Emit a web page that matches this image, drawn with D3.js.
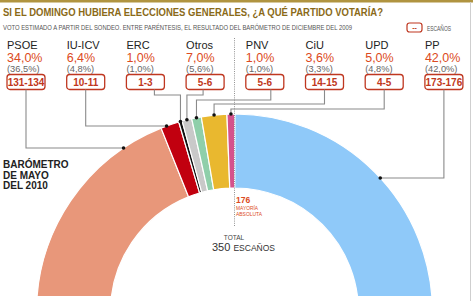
<!DOCTYPE html>
<html>
<head>
<meta charset="utf-8">
<script src="https://cdn.jsdelivr.net/npm/d3@7"></script>
<style>
  body { margin: 0; background: #fff; }
  svg { font-family: "Liberation Sans", Arial, sans-serif; display: block; }
</style>
</head>
<body>
<svg id="chart" width="473" height="301"></svg>
<script>
// Data
const parties = ["PSOE", "IU-ICV", "ERC", "Otros", "PNV", "CiU", "UPD", "PP"];
const votePct = ["34,0%", "6,4%", "1,0%", "7,0%", "1,0%", "3,6%", "5,0%", "42,0%"];
const prevPct = ["(36,5%)", "(4,8%)", "(1,0%)", "(5,6%)", "(1,0%)", "(3,3%)", "(4,8%)", "(42,0%)"];
const seatsLow = [131, 10, 1, 5, 5, 14, 4, 173];
const seatsHigh = [134, 11, 3, 6, 6, 15, 5, 176];
const colors = ["#e8977a", "#c1000f", "#111111", "#c9c9c9", "#8fcfaa", "#e9b82f", "#d4528c", "#8fc9f9"];
const totalSeats = 350;
const majority = 176;

const svg = d3.select("#chart");
const W = 473, H = 301;
const red = "#bf3720";
const redText = "#dc4a22";

// frame
svg.append("rect").attr("x", 0).attr("y", 0).attr("width", W).attr("height", 2.5).attr("fill", "#b09440");
svg.append("line").attr("x1", 470.5).attr("x2", 470.5).attr("y1", 2).attr("y2", H).attr("stroke", "#cfcfcf").attr("stroke-width", 1);

// title
svg.append("text").attr("x", 3).attr("y", 16)
    .attr("font-size", 11.5).attr("font-weight", "bold").attr("fill", "#8a6a18")
    .attr("textLength", 380).attr("lengthAdjust", "spacingAndGlyphs")
    .text("SI EL DOMINGO HUBIERA ELECCIONES GENERALES, ¿A QUÉ PARTIDO VOTARÍA?");
svg.append("text").attr("x", 3).attr("y", 30)
    .attr("font-size", 6.5).attr("fill", "#555")
    .attr("textLength", 349).attr("lengthAdjust", "spacingAndGlyphs")
    .text("VOTO ESTIMADO A PARTIR DEL SONDEO. ENTRE PARÉNTESIS, EL RESULTADO DEL BARÓMETRO DE DICIEMBRE DEL 2009");

// legend
svg.append("rect").attr("x", 407).attr("y", 23).attr("width", 15).attr("height", 9).attr("rx", 2.5)
    .attr("fill", "#fff").attr("stroke", red).attr("stroke-width", 1.2);
svg.append("text").attr("x", 414.5).attr("y", 30).attr("text-anchor", "middle")
    .attr("font-size", 7).attr("font-weight", "bold").attr("fill", red).text("--");
svg.append("text").attr("x", 427).attr("y", 30.5).attr("font-size", 6.5).attr("fill", "#555")
    .attr("textLength", 24).attr("lengthAdjust", "spacingAndGlyphs").text("ESCAÑOS");

// half donut, sized by the middle of each seat range
const cx = 234.5, cy = 312, rIn = 124, rOut = 198;
const seatMid = seatsLow.map((d, i) => (d + seatsHigh[i]) / 2);
const pie = d3.pie().sort(null).value(d => d)
    .startAngle(-Math.PI / 2).endAngle(Math.PI / 2);
const arcs = pie(seatMid);
const arc = d3.arc().innerRadius(rIn).outerRadius(rOut);

svg.append("clipPath").attr("id", "clip")
    .append("rect").attr("x", 0).attr("y", 0).attr("width", W).attr("height", 296);

const g = svg.append("g").attr("clip-path", "url(#clip)")
    .append("g").attr("transform", `translate(${cx},${cy})`);
g.selectAll("path")
    .data(arcs)
    .join("path")
    .attr("d", arc)
    .attr("fill", (d, i) => colors[i])
    .attr("stroke", "#fff")
    .attr("stroke-width", 1.2);

// majority line
svg.append("line").attr("x1", cx).attr("x2", cx).attr("y1", 38).attr("y2", 227)
    .attr("stroke", "#777").attr("stroke-width", 0.8).attr("stroke-dasharray", "1,1.2");

// label columns
const col = d3.scaleBand().domain(parties).range([7, 7 + 59.7 * 8]).paddingInner(0);
const boxW = 38, boxY = 74.5, boxH = 15;

const labels = svg.append("g").selectAll("g")
    .data(parties)
    .join("g")
    .attr("transform", d => `translate(${col(d)},0)`);

labels.append("text").attr("x", 0).attr("y", 49)
    .attr("font-size", 11).attr("fill", "#222").text(d => d);
labels.append("text").attr("x", 0).attr("y", 62)
    .attr("font-size", 12.5).attr("fill", redText).text((d, i) => votePct[i]);
labels.append("text").attr("x", 0).attr("y", 72)
    .attr("font-size", 9.3).attr("fill", "#666").text((d, i) => prevPct[i]);
labels.append("rect").attr("x", 0).attr("y", boxY).attr("width", boxW).attr("height", boxH).attr("rx", 3)
    .attr("fill", "#fff").attr("stroke", red).attr("stroke-width", 1.3);
labels.append("text").attr("x", boxW / 2).attr("y", boxY + 11)
    .attr("text-anchor", "middle").attr("font-size", 10).attr("font-weight", "bold").attr("fill", red)
    .text((d, i) => `${seatsLow[i]}-${seatsHigh[i]}`);

// leader lines
const leaders = [
    {side: true, y: 148, dx: 0},
    {side: true, y: 126, dx: 0},
    {side: false, y: 95, dx: 9},
    {side: false, y: 95, dx: -2},
    {side: false, y: 100, dx: 6},
    {side: false, y: 104, dx: 0},
    {side: false, y: 109, dx: 0},
    {side: true, y: 178, dx: 0}
];
const lineG = svg.append("g");
leaders.forEach((L, i) => {
    const x0 = col(parties[i]) + boxW / 2 + L.dx;
    const y0 = boxY + boxH;
    let pts, dot;
    if (L.side) {
        const h = Math.sqrt(rOut * rOut - (cy - L.y) * (cy - L.y));
        const xe = x0 < cx ? cx - h : cx + h;
        dot = [xe, L.y];
        pts = [[x0, y0], [x0, L.y], dot];
    } else {
        const a = (arcs[i].startAngle + arcs[i].endAngle) / 2;
        dot = [cx + rOut * Math.sin(a), cy - rOut * Math.cos(a)];
        pts = [[x0, y0], [x0, L.y], [dot[0], L.y], dot];
    }
    lineG.append("path").attr("d", d3.line()(pts))
        .attr("fill", "none").attr("stroke", "#8a8a8a").attr("stroke-width", 1.1);
    lineG.append("circle").attr("cx", dot[0]).attr("cy", dot[1]).attr("r", 1.8).attr("fill", "#111");
});

// side label
const side = svg.append("text").attr("font-size", 10).attr("font-weight", "bold").attr("fill", "#222");
["BARÓMETRO", "DE MAYO", "DEL 2010"].forEach((t, i) => {
    side.append("tspan").attr("x", 3).attr("y", 168 + i * 10.5).text(t);
});

// majority labels
svg.append("text").attr("x", 236).attr("y", 203).attr("font-size", 8.5).attr("font-weight", "bold")
    .attr("fill", redText).text(majority);
svg.append("text").attr("x", 236).attr("y", 209.5).attr("font-size", 5).attr("fill", redText)
    .attr("textLength", 22).attr("lengthAdjust", "spacingAndGlyphs").text("MAYORÍA");
svg.append("text").attr("x", 236).attr("y", 215.5).attr("font-size", 5).attr("fill", redText)
    .attr("textLength", 26).attr("lengthAdjust", "spacingAndGlyphs").text("ABSOLUTA");

// total
svg.append("text").attr("x", 234).attr("y", 239.5).attr("text-anchor", "middle")
    .attr("font-size", 6.5).attr("fill", "#444").text("TOTAL");
const tot = svg.append("text").attr("x", 212).attr("y", 251).attr("fill", "#333");
tot.append("tspan").attr("font-size", 11).text(totalSeats + " ");
tot.append("tspan").attr("font-size", 8.5).text("ESCAÑOS");
</script>
</body>
</html>
